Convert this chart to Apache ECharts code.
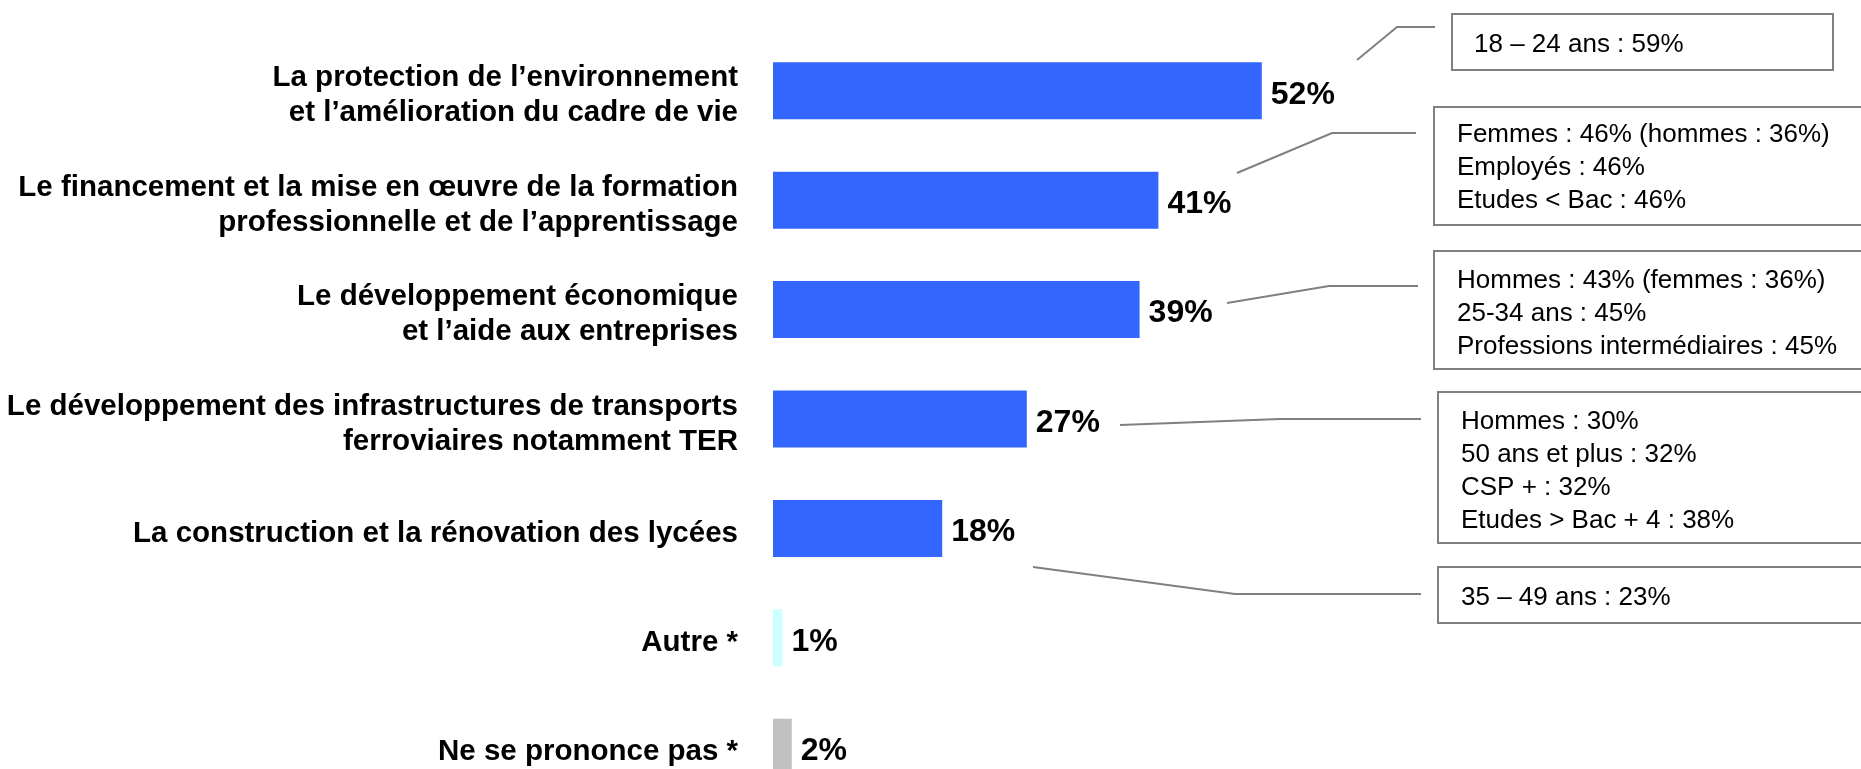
<!DOCTYPE html>
<html>
<head>
<meta charset="utf-8">
<script src="https://cdn.jsdelivr.net/npm/echarts@6/dist/echarts.min.js"></script>
<style>
  html, body { margin: 0; padding: 0; background: #fff; }
  #chart { width: 1861px; height: 769px; }
</style>
</head>
<body>
<div id="chart"></div>
<script>
// données
var categories = [
  'La protection de l\u2019environnement\net l\u2019amélioration du cadre de vie',
  'Le financement et la mise en œuvre de la formation\nprofessionnelle et de l\u2019apprentissage',
  'Le développement économique\net l\u2019aide aux entreprises',
  'Le développement des infrastructures de transports\nferroviaires notamment TER',
  'La construction et la rénovation des lycées',
  'Autre *',
  'Ne se prononce pas *'
];
var values = [52, 41, 39, 27, 18, 1, 2];

var notes = [
  ['18 – 24 ans : 59%'],
  ['Femmes : 46% (hommes : 36%)', 'Employés : 46%', 'Etudes < Bac : 46%'],
  ['Hommes : 43% (femmes : 36%)', '25-34 ans : 45%', 'Professions intermédiaires : 45%'],
  ['Hommes : 30%', '50 ans et plus : 32%', 'CSP + : 32%', 'Etudes > Bac + 4 : 38%'],
  ['35 – 49 ans : 23%']
];

var barColors = ['#3366ff', '#3366ff', '#3366ff', '#3366ff', '#3366ff', '#ccffff', '#c0c0c0'];
var grey = '#808080';
var font = '"Liberation Sans", Arial, Helvetica, sans-serif';

// boites des commentaires (x, y, largeur, hauteur, texte x, 1re ligne y)
var boxes = [
  [1452, 14, 381, 56, 1474, 45],
  [1434, 107, 460, 118, 1457, 135],
  [1434, 251, 460, 118, 1457, 281],
  [1438, 392, 460, 151, 1461, 422],
  [1438, 567, 460, 56, 1461, 598]
];
var leaders = [
  [[1357, 60], [1397, 27], [1435, 27]],
  [[1237, 173], [1332, 133], [1416, 133]],
  [[1227, 303], [1329, 286], [1418, 286]],
  [[1120, 425], [1280, 419], [1421, 419]],
  [[1033, 567], [1235, 594], [1421, 594]]
];

var graphics = [];
boxes.forEach(function (b, i) {
  graphics.push({
    type: 'rect',
    shape: { x: b[0], y: b[1], width: b[2], height: b[3] },
    style: { fill: '#fff', stroke: grey, lineWidth: 2 }
  });
  graphics.push({
    type: 'text',
    x: b[4], y: b[5] - 16.5,
    style: {
      text: notes[i].join('\n'),
      font: '26px ' + font,
      lineHeight: 33,
      fill: '#000',
      verticalAlign: 'top'
    }
  });
  graphics.push({
    type: 'polyline',
    shape: { points: leaders[i] },
    style: { stroke: grey, lineWidth: 2, fill: null }
  });
});

var chart = echarts.init(document.getElementById('chart'));
chart.setOption({
  animation: false,
  grid: { left: 773, top: 36, width: 940, height: 766, outerBoundsMode: 'none', containLabel: false },
  xAxis: { type: 'value', min: 0, max: 100, show: false },
  yAxis: {
    type: 'category',
    inverse: true,
    data: categories,
    axisLine: { show: false },
    axisTick: { show: false },
    axisLabel: {
      margin: 35,
      fontFamily: font,
      fontSize: 29.5,
      fontWeight: 'bold',
      color: '#000',
      lineHeight: 35,
      // petite ligne vide au-dessus pour descendre un peu le texte
      formatter: function (v) { return '{sp|}\n' + v; },
      rich: { sp: { lineHeight: 10, fontSize: 1 } }
    }
  },
  series: [{
    type: 'bar',
    data: values,
    barWidth: 57,
    itemStyle: {
      color: function (p) { return barColors[p.dataIndex]; }
    },
    label: {
      show: true,
      position: 'right',
      distance: 9,
      offset: [0, 4],
      formatter: '{c}%',
      fontFamily: font,
      fontSize: 32,
      fontWeight: 'bold',
      color: '#000'
    }
  }],
  graphic: graphics
});
</script>
</body>
</html>
